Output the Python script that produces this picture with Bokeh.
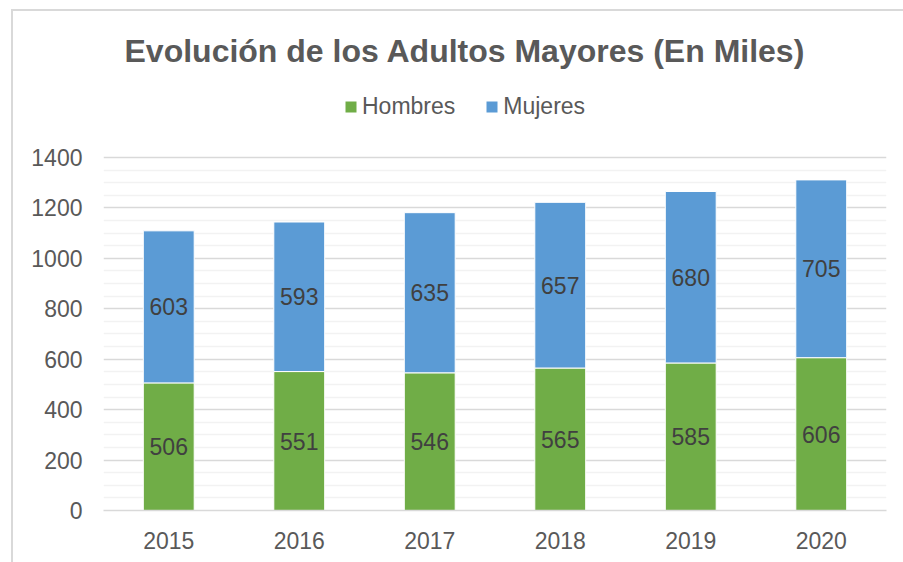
from bokeh.plotting import figure
from bokeh.models import (FactorRange, Range1d, FixedTicker, Legend, LegendItem,
                          ColumnDataSource, LabelSet)
from bokeh.core.properties import value
from bokeh.embed import file_html
from bokeh.resources import INLINE

years = ["2015", "2016", "2017", "2018", "2019", "2020"]
hombres = [506, 551, 546, 565, 585, 606]
mujeres = [603, 593, 635, 657, 680, 705]
series_names = ["Hombres", "Mujeres"]
colors = ["#70AD47", "#5B9BD5"]
title_text = "Evolución de los Adultos Mayores (En Miles)"
y_ticks = [0, 200, 400, 600, 800, 1000, 1200, 1400]
y_minor_ticks = [50, 100, 150, 250, 300, 350, 450, 500, 550, 650, 700, 750,
                 850, 900, 950, 1050, 1100, 1150, 1250, 1300, 1350]

FONT = "Liberation Sans"
TXT = "#595959"

src = ColumnDataSource(dict(
    year=years, Hombres=hombres, Mujeres=mujeres,
    h_mid=[h / 2 for h in hombres],
    m_mid=[h + m / 2 for h, m in zip(hombres, mujeres)],
    h_lab=[str(v) for v in hombres],
    m_lab=[str(v) for v in mujeres],
))

# frame extends above the value axis so the legend can sit inside it
p = figure(x_range=FactorRange(*years, range_padding=0), y_range=Range1d(0, 1725),
           width=903, height=562, output_backend="svg", toolbar_location=None,
           min_border_left=103, min_border_right=17, min_border_bottom=52, min_border_top=75)

# thin chart-area frame (left and top edges) drawn behind the transparent canvas border
p.styles = {
    "background-color": "white",
    "background-image": "linear-gradient(#d9d9d9, #d9d9d9), linear-gradient(#d9d9d9, #d9d9d9)",
    "background-position": "11px 9px, 11px 9px",
    "background-size": "2px 560px, 900px 2px",
    "background-repeat": "no-repeat",
}

rs = p.vbar_stack(series_names, x="year", width=0.39, color=colors, source=src,
                  line_color="white", line_width=1)

for col, lab in (("h_mid", "h_lab"), ("m_mid", "m_lab")):
    p.add_layout(LabelSet(x="year", y=col, text=lab, source=src, text_align="center",
                          text_baseline="middle", text_font_size="23px", text_font=value(FONT),
                          text_color="#404040"))

legend = Legend(items=[LegendItem(label=n, renderers=[r]) for n, r in zip(series_names, rs)],
                orientation="horizontal", location=(240, 390), padding=0, margin=0,
                spacing=29, label_standoff=4, glyph_width=15, glyph_height=15,
                label_text_font_size="23px", label_text_font=FONT, label_text_color=TXT,
                background_fill_alpha=0, border_line_color=None)
p.add_layout(legend, "center")

p.title.text = title_text
p.title.text_font_size = "32px"
p.title.text_font = FONT
p.title.text_font_style = "bold"
p.title.text_color = TXT
p.title.align = "left"
p.title.offset = 21
p.title.standoff = 13

p.yaxis.ticker = FixedTicker(ticks=y_ticks, minor_ticks=y_minor_ticks)
p.ygrid.grid_line_color = "#d9d9d9"
p.ygrid.grid_line_width = 1.5
p.ygrid.minor_grid_line_color = "#f2f2f2"
p.ygrid.minor_grid_line_width = 1.5
p.xgrid.grid_line_color = None

for ax in (p.xaxis, p.yaxis):
    ax.major_tick_line_color = None
    ax.minor_tick_line_color = None
    ax.major_label_text_font_size = "23px"
    ax.major_label_text_font = FONT
    ax.major_label_text_color = TXT
    ax.major_tick_out = 0
    ax.minor_tick_out = 0
p.yaxis.axis_line_color = None
p.xaxis.axis_line_color = "#d9d9d9"
p.xaxis.axis_line_width = 1.5
p.yaxis.major_label_standoff = 21
p.xaxis.major_label_standoff = 21

p.outline_line_color = None
p.background_fill_color = "white"
p.border_fill_color = None

open("out.html", "w").write(file_html(p, INLINE))
